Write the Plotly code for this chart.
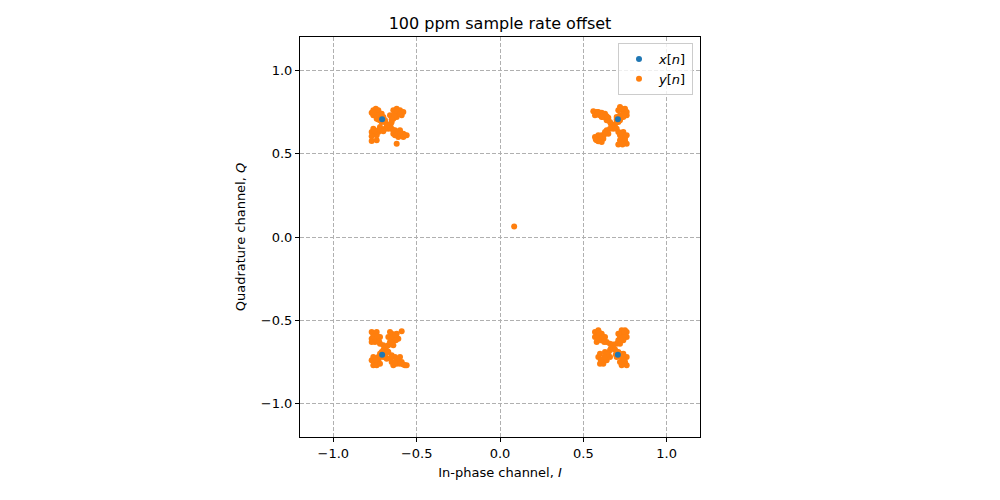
import plotly.graph_objects as go

# Ideal QPSK symbols x[n]
x_I = [-0.7071, 0.7071, -0.7071, 0.7071]
x_Q = [0.7071, 0.7071, -0.7071, -0.7071]

# Received samples y[n], per cluster
tl_I = [-0.665,-0.68,-0.655,-0.67,
        -0.69,-0.70,-0.72,-0.73,-0.75,-0.76,-0.77,-0.745,-0.76,-0.73,-0.71,-0.74,
        -0.65,-0.64,-0.62,-0.61,-0.60,-0.62,-0.64,-0.58,-0.59,-0.63,-0.66,
        -0.69,-0.71,-0.73,-0.75,-0.77,-0.76,-0.74,-0.72,-0.77,-0.77,-0.74,
        -0.65,-0.63,-0.61,-0.59,-0.57,-0.61,-0.63,-0.64,-0.60,-0.62,-0.58,
        -0.70,-0.72,-0.69,-0.71,-0.73,-0.74,-0.76,
        -0.615,-0.635,-0.60,-0.65,
        -0.745,-0.725,-0.755,-0.70,
        -0.62,-0.60,-0.58,-0.64,-0.56]
tl_Q = [0.665,0.675,0.68,0.65,
        0.69,0.71,0.72,0.74,0.75,0.76,0.745,0.77,0.73,0.76,0.74,0.71,
        0.69,0.71,0.72,0.74,0.76,0.77,0.76,0.75,0.73,0.74,0.73,
        0.65,0.64,0.63,0.62,0.63,0.65,0.61,0.66,0.605,0.576,0.58,
        0.65,0.64,0.63,0.61,0.61,0.60,0.61,0.62,0.64,0.56,0.62,
        0.72,0.70,0.70,0.69,0.705,0.73,0.745,
        0.755,0.725,0.74,0.705,
        0.635,0.645,0.64,0.635,
        0.625,0.62,0.60,0.64,0.61]

tr_I = [0.678,0.665,0.69,0.68,
        0.66,0.64,0.62,0.60,0.58,0.56,0.59,0.61,0.63,0.57,0.65,
        0.70,0.71,0.72,0.74,0.75,0.73,0.71,0.76,0.74,0.72,0.76,
        0.66,0.64,0.63,0.61,0.60,0.58,0.59,0.62,0.61,0.57,0.65,
        0.70,0.71,0.72,0.74,0.75,0.73,0.76,0.72,0.71,0.74,0.76,
        0.70,0.72,0.71,0.725,0.70,0.74,
        0.62,0.60,0.64,0.585,0.61,
        0.62,0.60,0.63,0.59,0.575,
        0.73,0.745,0.725,0.75,0.735]
tr_Q = [0.666,0.68,0.675,0.65,
        0.69,0.70,0.72,0.73,0.75,0.755,0.75,0.745,0.74,0.73,0.715,
        0.69,0.71,0.73,0.75,0.77,0.77,0.76,0.73,0.72,0.78,0.75,
        0.65,0.64,0.62,0.61,0.59,0.58,0.61,0.59,0.57,0.60,0.62,
        0.65,0.63,0.61,0.60,0.58,0.57,0.56,0.58,0.555,0.63,0.61,
        0.72,0.70,0.69,0.72,0.705,0.735,
        0.735,0.74,0.725,0.735,0.72,
        0.605,0.60,0.63,0.575,0.585,
        0.595,0.575,0.625,0.595,0.555]

bl_I = [-0.686,-0.70,-0.675,-0.69,
        -0.70,-0.72,-0.73,-0.75,-0.76,-0.77,-0.74,-0.77,-0.72,-0.75,-0.77,
        -0.67,-0.66,-0.64,-0.63,-0.62,-0.65,-0.67,-0.61,-0.59,-0.64,-0.66,
        -0.70,-0.72,-0.73,-0.75,-0.76,-0.77,-0.74,-0.76,-0.72,
        -0.67,-0.65,-0.63,-0.61,-0.59,-0.57,-0.56,-0.62,-0.65,-0.60,-0.64,-0.68,
        -0.70,-0.72,-0.71,-0.69,-0.73,-0.745,
        -0.745,-0.76,-0.735,-0.725,
        -0.645,-0.625,-0.65,-0.63,
        -0.62,-0.60,-0.63,-0.58,-0.655]
bl_Q = [-0.672,-0.68,-0.685,-0.66,
        -0.65,-0.64,-0.62,-0.60,-0.58,-0.57,-0.57,-0.61,-0.60,-0.63,-0.63,
        -0.65,-0.63,-0.62,-0.60,-0.58,-0.58,-0.60,-0.61,-0.565,-0.65,-0.57,
        -0.70,-0.72,-0.74,-0.75,-0.77,-0.74,-0.77,-0.72,-0.76,
        -0.69,-0.71,-0.72,-0.74,-0.75,-0.77,-0.77,-0.76,-0.75,-0.72,-0.77,-0.73,
        -0.72,-0.70,-0.69,-0.71,-0.72,-0.735,
        -0.615,-0.595,-0.595,-0.63,
        -0.60,-0.62,-0.635,-0.585,
        -0.735,-0.76,-0.755,-0.765,-0.725]

br_I = [0.678,0.665,0.69,0.68,
        0.66,0.64,0.62,0.60,0.58,0.57,0.59,0.57,0.61,0.63,0.58,
        0.70,0.71,0.72,0.74,0.76,0.75,0.73,0.76,0.71,0.74,0.72,
        0.66,0.65,0.63,0.61,0.60,0.59,0.62,0.64,0.60,0.66,0.63,
        0.70,0.72,0.74,0.75,0.76,0.73,0.76,0.74,0.72,
        0.70,0.72,0.71,0.695,0.73,0.745,
        0.605,0.585,0.615,0.595,0.625,
        0.735,0.75,0.725,0.745,
        0.62,0.61,0.64,0.625,0.605]
br_Q = [-0.66,-0.67,-0.675,-0.645,
        -0.64,-0.63,-0.61,-0.60,-0.58,-0.57,-0.56,-0.60,-0.58,-0.60,-0.63,
        -0.64,-0.62,-0.60,-0.58,-0.57,-0.56,-0.56,-0.60,-0.58,-0.62,-0.64,
        -0.68,-0.70,-0.72,-0.74,-0.76,-0.72,-0.76,-0.74,-0.70,-0.72,-0.69,
        -0.69,-0.71,-0.73,-0.75,-0.77,-0.77,-0.72,-0.70,-0.75,
        -0.72,-0.70,-0.69,-0.705,-0.72,-0.74,
        -0.62,-0.60,-0.595,-0.575,-0.63,
        -0.605,-0.585,-0.62,-0.565,
        -0.735,-0.755,-0.705,-0.72,-0.74]

out_I = [0.085]
out_Q = [0.063]

y_I = tl_I + tr_I + bl_I + br_I + out_I
y_Q = tl_Q + tr_Q + bl_Q + br_Q + out_Q

tick_vals = [-1.0, -0.5, 0.0, 0.5, 1.0]
tick_text = ["\u22121.0", "\u22120.5", "0.0", "0.5", "1.0"]

fig = go.Figure()
fig.add_trace(go.Scatter(x=y_I, y=y_Q, mode="markers", name="<i>y</i>[<i>n</i>]",
                         marker=dict(color="#ff7f0e", size=6), legendrank=2))
fig.add_trace(go.Scatter(x=x_I, y=x_Q, mode="markers", name="<i>x</i>[<i>n</i>]",
                         marker=dict(color="#1f77b4", size=6), legendrank=1))

axis_common = dict(range=[-1.2, 1.2], tickvals=tick_vals, ticktext=tick_text,
                   showline=True, linecolor="black", linewidth=1, mirror=True,
                   ticks="outside", ticklen=4, tickcolor="black",
                   showgrid=True, gridcolor="#b0b0b0", griddash="4px,2px", gridwidth=0.8,
                   zeroline=False, tickfont=dict(size=13, color="black"))

fig.update_layout(
    width=1000, height=500,
    margin=dict(l=292, r=308, t=29, b=71),
    paper_bgcolor="white", plot_bgcolor="white",
    font=dict(family="DejaVu Sans", color="black"),
    title=dict(text="100 ppm sample rate offset", x=0.492, xanchor="center",
               y=0.97, yanchor="middle", font=dict(size=16)),
    xaxis=dict(title=dict(text="In-phase channel, <i>I</i>", font=dict(size=13), standoff=8), **axis_common),
    yaxis=dict(title=dict(text="Quadrature channel, <i>Q</i>", font=dict(size=13), standoff=12), **axis_common),
    legend=dict(x=0.9825, y=0.985, xanchor="right", yanchor="top",
                bgcolor="rgba(255,255,255,0.8)", bordercolor="#cccccc", borderwidth=1,
                font=dict(size=13), tracegroupgap=4),
    showlegend=True,
)

fig.write_html("out.html")
